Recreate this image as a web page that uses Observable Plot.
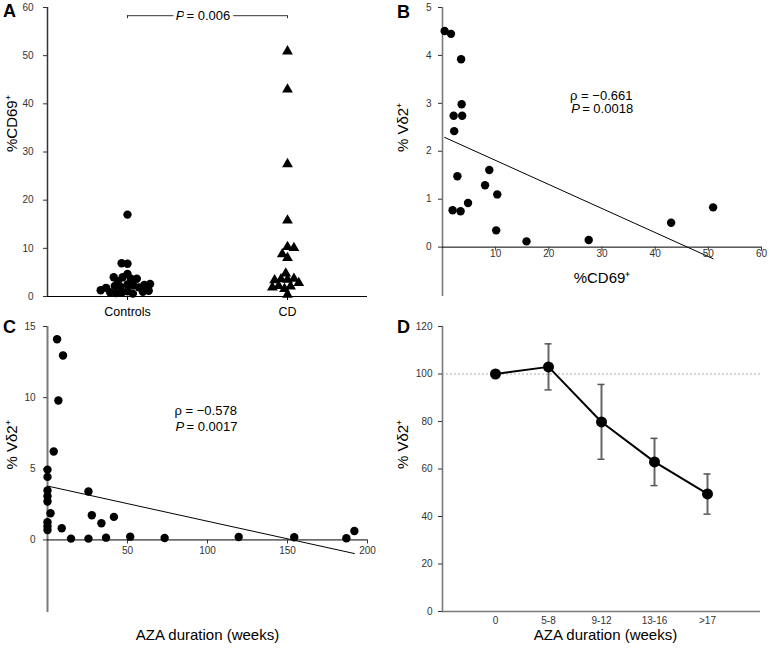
<!DOCTYPE html>
<html><head><meta charset="utf-8">
<script src="https://cdn.jsdelivr.net/npm/d3@7"></script>
<script src="https://cdn.jsdelivr.net/npm/@observablehq/plot@0.6"></script>
<style>
body{margin:0;background:#fff;}
#fig{position:relative;width:770px;height:648px;overflow:hidden;font-family:"Liberation Sans",Arial,sans-serif;background:#fff;}
.panel{position:absolute;}
.letter{position:absolute;font-weight:bold;font-size:18px;line-height:18px;color:#000;}
</style></head><body><div id="fig"></div>
<script>
// ---------- DATA ----------
// Panel A: %CD69+ by group
const groupsA = ["Controls", "CD"];
const controlsCD69 = [17.0, 6.8, 6.9, 4.7, 4.0, 3.7, 3.7, 3.2, 4.0, 2.5, 1.1, 2.3, 0.8, 2.0, 0.6, 1.9, 0.7, 2.2, 1.0, 2.4, 0.9, 1.8, 1.2, 2.6, 1.3];
const cdCD69 = [0.4, 1.6, 3.5, 3.6, 3.7, 2.1, 2.2, 2.8, 1.9, 3.4, 4.8, 8.0, 8.8, 10.3, 10.1, 15.8, 27.5, 43.0, 50.9];
const yTicksA = [0, 10, 20, 30, 40, 50, 60];
const pValueA = "0.006";
const bracketYA = 58.3;

// Panel B: %Vδ2+ vs %CD69+ (CD patients)
const cdVd2 = [4.51, 4.45, 3.92, 2.98, 2.74, 2.74, 2.42, 1.48, 0.77, 0.75, 0.92, 1.29, 1.61, 1.10, 0.35, 0.12, 0.15, 0.51, 0.83];
const xTicksB = [10, 20, 30, 40, 50, 60];
const yTicksB = [0, 1, 2, 3, 4, 5];
const rhoB = "\u22120.661", pB = "0.0018";

// Panel C: %Vδ2+ vs AZA duration
const azaWeeks = [6.0, 9.7, 6.8, 3.9, 0, 0, 0, 0, 0, 1.9, 0, 0, 0, 8.9, 14.7, 25.6, 25.6, 27.7, 33.7, 36.6, 41.5, 51.7, 73.2, 119.5, 154.2, 186.8, 191.8];
const azaVd2 = [14.1, 12.96, 9.8, 6.21, 4.94, 4.43, 3.47, 3.07, 2.70, 1.87, 1.24, 0.96, 0.70, 0.82, 0.09, 3.40, 0.09, 1.73, 1.17, 0.16, 1.62, 0.23, 0.14, 0.21, 0.19, 0.12, 0.63];
const xTicksC = [50, 100, 150, 200];
const yTicksC = [0, 5, 10, 15];
const rhoC = "\u22120.578", pC = "0.0017";

// Panel D: mean %Vδ2+ by AZA duration
const durationCats = ["0", "5-8", "9-12", "13-16", ">17"];
const meanPct = [100, 103, 79.8, 63.0, 49.5];
const errLow = [null, 93.3, 64.1, 53.0, 41.0];
const errHigh = [null, 112.7, 95.6, 72.9, 57.9];
const yTicksD = [0, 20, 40, 60, 80, 100, 120];
const refLineD = 100;

const labelVd2 = "% V\u03b42\u207a";
const labelCD69 = "%CD69\u207a";
const labelAZA = "AZA duration (weeks)";

// ---------- TABLES ----------
const tableCtrl = controlsCD69.map(v => ({group: "Controls", v}));
const tableCD = cdCD69.map(v => ({group: "CD", v}));
const tableB = cdCD69.map((x, i) => ({x, y: cdVd2[i]}));
const tableC = azaWeeks.map((x, i) => ({x, y: azaVd2[i]}));
const tableD = durationCats.map((c, i) => ({cat: c, mean: meanPct[i], lo: errLow[i], hi: errHigh[i]}));
const errD = tableD.filter(d => d.lo != null);

const FONT = '"Liberation Sans", Arial, sans-serif';
const baseStyle = {fontFamily: FONT, fontSize: "10px", background: "transparent", overflow: "visible", color: "#000"};
const AX = "#7a7a7a";
const TICK = "#333";

const fig = document.getElementById("fig");
function place(svg, left, top) {
  const d = document.createElement("div");
  d.className = "panel";
  d.style.left = left + "px"; d.style.top = top + "px";
  d.appendChild(svg);
  fig.appendChild(d);
}
function letter(t, left, top) {
  const d = document.createElement("div");
  d.className = "letter";
  d.textContent = t;
  d.style.left = left + "px"; d.style.top = top + "px";
  fig.appendChild(d);
}

// ---------- PANEL A ----------
const plotA = Plot.plot({
  width: 385, height: 320,
  marginLeft: 47, marginRight: 18, marginTop: 7, marginBottom: 24,
  style: baseStyle,
  fx: {domain: groupsA, padding: 0, label: null},
  x: {domain: [0, 1], axis: null},
  y: {domain: [0, 60], label: null},
  marks: [
    Plot.ruleY([0], {stroke: "#000", strokeWidth: 1}),
    Plot.axisY(yTicksA, {anchor: "left", tickSize: 4, tickPadding: 10, label: null, fontSize: 10, color: TICK}),
    Plot.axisFx({anchor: "bottom", tickSize: 4, tickPadding: 7, fontSize: 12.5, label: null}),
    Plot.dot(tableCtrl, Plot.dodgeX({anchor: "middle", padding: -2.5}, {y: "v", fx: "group", r: 4.2, fill: "#000", symbol: "circle"})),
    Plot.dot(tableCD, Plot.dodgeX({anchor: "middle", padding: -1.5}, {y: "v", fx: "group", r: 4, fill: "#000", symbol: "triangle"})),
    Plot.ruleY([{group: "Controls", a: 0.5, b: 1}, {group: "CD", a: 0, b: 0.5}], {fx: "group", x1: "a", x2: "b", y: bracketYA, stroke: "#333", strokeWidth: 1}),
    Plot.ruleX([{group: "Controls", a: 0.5}, {group: "CD", a: 0.5}], {fx: "group", x: "a", y1: bracketYA, y2: bracketYA, insetBottom: -3, stroke: "#333"}),
    Plot.text([{group: "CD", a: 0}], {fx: "group", x: "a", y: () => bracketYA, text: () => "P", fontStyle: "italic", textAnchor: "end", dx: -23, fontSize: 13, fill: "#000", stroke: "#fff", strokeWidth: 7}),
    Plot.text([{group: "CD", a: 0}], {fx: "group", x: "a", y: () => bracketYA, text: () => "= " + pValueA, textAnchor: "start", dx: -21, fontSize: 13, fill: "#000", stroke: "#fff", strokeWidth: 7}),
    Plot.text([{group: "Controls", t: labelCD69}], {fx: "group", text: "t", frameAnchor: "left", rotate: -90, dx: -35, fontSize: 15, fill: "#000"}),
    Plot.ruleX([0], {facetAnchor: "left", stroke: "#333", strokeWidth: 1.5})
  ]
});
place(plotA, 0, 0);

// ---------- PANEL B ----------
const plotB = Plot.plot({
  width: 385, height: 320,
  marginLeft: 57, marginRight: 9, marginTop: 7, marginBottom: 24,
  style: baseStyle,
  x: {domain: [0, 60], axis: null},
  y: {domain: [-1.03, 5], axis: null},
  marks: [
    Plot.ruleX([0], {stroke: AX, strokeWidth: 1.6}),
    Plot.ruleY([0], {stroke: "#000", strokeWidth: 1}),
    Plot.axisY(yTicksB, {anchor: "left", tickSize: 4, tickPadding: 7, label: null, fontSize: 10, color: TICK}),
    Plot.ruleX(xTicksB, {x: d => d, y1: 0, y2: 0, insetBottom: -4, stroke: TICK}),
    Plot.text(xTicksB, {x: d => d, y: 0, dy: 7, fontSize: 10, fill: TICK}),
    Plot.linearRegressionY(tableB, {x: "x", y: "y", ci: 0, stroke: "#000", strokeWidth: 1}),
    Plot.dot(tableB, {x: "x", y: "y", r: 4.2, fill: "#000"}),
    Plot.text([{x: 24.0, y: 3.16}], {x: "x", y: "y", text: () => "\u03c1 = " + rhoB, textAnchor: "start", fontSize: 13, fill: "#000"}),
    Plot.text([{x: 24.2, y: 2.88}], {x: "x", y: "y", text: () => "P", fontStyle: "italic", textAnchor: "start", fontSize: 13, fill: "#000"}),
    Plot.text([{x: 24.2, y: 2.88}], {x: "x", y: "y", text: () => "= " + pB, textAnchor: "start", dx: 11, fontSize: 13, fill: "#000"}),
    Plot.text([labelVd2], {frameAnchor: "left", rotate: -90, dx: -39, fontSize: 15, fill: "#000"}),
    Plot.text([labelCD69], {frameAnchor: "bottom", dy: -14, fontSize: 15, fill: "#000"})
  ]
});
place(plotB, 385, 0);

// ---------- PANEL C ----------
const plotC = Plot.plot({
  width: 385, height: 328,
  marginLeft: 47, marginRight: 18, marginTop: 6, marginBottom: 36,
  style: baseStyle,
  x: {domain: [0, 200], axis: null},
  y: {domain: [-5.1, 15], axis: null},
  marks: [
    Plot.ruleX([0], {stroke: AX, strokeWidth: 2}),
    Plot.ruleY([0], {stroke: "#000", strokeWidth: 1}),
    Plot.axisY(yTicksC, {anchor: "left", tickSize: 4, tickPadding: 8, label: null, fontSize: 10, color: TICK}),
    Plot.ruleX(xTicksC, {x: d => d, y1: 0, y2: 0, insetBottom: -4, stroke: TICK}),
    Plot.text(xTicksC, {x: d => d, y: 0, dy: 11, fontSize: 10, fill: TICK}),
    Plot.linearRegressionY(tableC, {x: "x", y: "y", ci: 0, stroke: "#000", strokeWidth: 1}),
    Plot.dot(tableC, {x: "x", y: "y", r: 4.2, fill: "#000"}),
    Plot.text([{x: 79.4, y: 9.09}], {x: "x", y: "y", text: () => "\u03c1 = " + rhoC, textAnchor: "start", fontSize: 13, fill: "#000"}),
    Plot.text([{x: 80.0, y: 7.97}], {x: "x", y: "y", text: () => "P", fontStyle: "italic", textAnchor: "start", fontSize: 13, fill: "#000"}),
    Plot.text([{x: 80.0, y: 7.97}], {x: "x", y: "y", text: () => "= " + pC, textAnchor: "start", dx: 11, fontSize: 13, fill: "#000"}),
    Plot.text([labelVd2], {frameAnchor: "left", rotate: -90, dx: -35, fontSize: 15, fill: "#000"}),
    Plot.text([labelAZA], {frameAnchor: "bottom", dy: 27, fontSize: 15, fill: "#000"})
  ]
});
place(plotC, 0, 320);

// ---------- PANEL D ----------
const plotD = Plot.plot({
  width: 385, height: 328,
  marginLeft: 57, marginRight: 10, marginTop: 6, marginBottom: 37,
  style: baseStyle,
  x: {type: "point", domain: durationCats, padding: 1, axis: null},
  y: {domain: [0, 120], axis: null},
  marks: [
    Plot.frame({anchor: "left", stroke: AX, strokeWidth: 1.6}),
    Plot.ruleY([0], {stroke: AX, strokeWidth: 1.4}),
    Plot.ruleY([refLineD], {stroke: "#999", strokeWidth: 0.8, strokeDasharray: "2,2"}),
    Plot.axisY(yTicksD, {anchor: "left", tickSize: 4, tickPadding: 6, label: null, fontSize: 10, color: TICK}),
    Plot.axisX({anchor: "bottom", tickSize: 0, tickPadding: 5, fontSize: 10, label: null, color: TICK}),
    Plot.ruleX(errD, {x: "cat", y1: "lo", y2: "hi", stroke: "#666", strokeWidth: 2}),
    Plot.ruleY(errD, {x1: "cat", x2: "cat", y: "lo", insetLeft: -3.5, insetRight: -3.5, stroke: "#555", strokeWidth: 1.5}),
    Plot.ruleY(errD, {x1: "cat", x2: "cat", y: "hi", insetLeft: -3.5, insetRight: -3.5, stroke: "#555", strokeWidth: 1.5}),
    Plot.line(tableD, {x: "cat", y: "mean", stroke: "#000", strokeWidth: 2}),
    Plot.dot(tableD, {x: "cat", y: "mean", r: 5.5, fill: "#000"}),
    Plot.text([labelVd2], {frameAnchor: "left", rotate: -90, dx: -39, fontSize: 15, fill: "#000"}),
    Plot.text([labelAZA], {frameAnchor: "bottom", dx: 4, dy: 28, fontSize: 15, fill: "#000"})
  ]
});
place(plotD, 385, 320);

letter("A", 3, 2);
letter("B", 397, 3);
letter("C", 3, 318);
letter("D", 397, 318);
</script>
</body></html>
